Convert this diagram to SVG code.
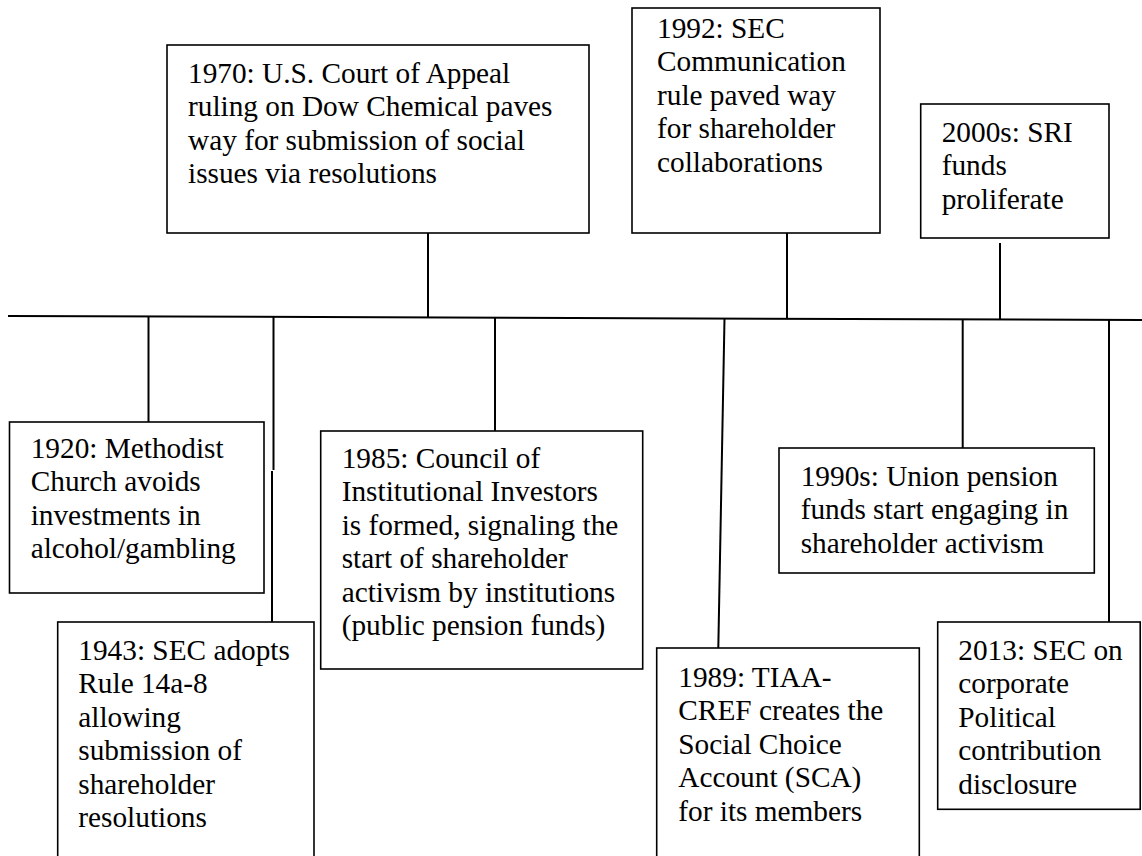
<svg xmlns="http://www.w3.org/2000/svg" width="1142" height="856" viewBox="0 0 1142 856">
  <style>
    .box { fill: #ffffff; stroke: #000000; stroke-width: 1.6; }
    .wire { fill: none; stroke: #000000; stroke-width: 2; }
    .lbl { font-family: "Liberation Serif", "Times New Roman", serif; font-size: 29.3px; fill: #000000; }
  </style>
  <rect x="0" y="0" width="1142" height="856" fill="#ffffff"/>

  <!-- timeline axis and ticks -->
  <g id="connectors">
    <line class="wire" x1="8" y1="316" x2="1142" y2="320"/>
    <!-- above the axis -->
    <line class="wire" x1="428" y1="233" x2="428" y2="317"/>
    <line class="wire" x1="787" y1="233" x2="787" y2="318.5"/>
    <line class="wire" x1="1000" y1="243" x2="1000" y2="319"/>
    <!-- below the axis -->
    <line class="wire" x1="148.5" y1="316.5" x2="148.5" y2="422"/>
    <line class="wire" x1="273.5" y1="317" x2="273.5" y2="470"/>
    <line class="wire" x1="272" y1="471" x2="272" y2="622"/>
    <line class="wire" x1="495" y1="317.5" x2="495" y2="431"/>
    <line class="wire" x1="724.5" y1="318.5" x2="718.3" y2="648"/>
    <line class="wire" x1="962.7" y1="319.5" x2="962.7" y2="448"/>
    <line class="wire" x1="1109" y1="320" x2="1109" y2="622"/>
  </g>

  <g id="n1970">
    <rect class="box" x="167" y="45" width="422" height="188"/>
    <text class="lbl" x="188" y="83">
      <tspan x="188">1970: U.S. Court of Appeal</tspan>
      <tspan x="188" dy="33.4">ruling on Dow Chemical paves</tspan>
      <tspan x="188" dy="33.4">way for submission of social</tspan>
      <tspan x="188" dy="33.4">issues via resolutions</tspan>
    </text>
  </g>

  <g id="n1992">
    <rect class="box" x="632" y="8" width="248" height="225"/>
    <text class="lbl" x="657" y="38">
      <tspan x="657">1992: SEC</tspan>
      <tspan x="657" dy="33.4">Communication</tspan>
      <tspan x="657" dy="33.4">rule paved way</tspan>
      <tspan x="657" dy="33.4">for shareholder</tspan>
      <tspan x="657" dy="33.4">collaborations</tspan>
    </text>
  </g>

  <g id="n2000s">
    <rect class="box" x="920.7" y="104" width="188.3" height="134"/>
    <text class="lbl" x="941.7" y="142">
      <tspan x="941.7">2000s: SRI</tspan>
      <tspan x="941.7" dy="33.4">funds</tspan>
      <tspan x="941.7" dy="33.4">proliferate</tspan>
    </text>
  </g>

  <g id="n1920">
    <rect class="box" x="9.5" y="422" width="254.5" height="171"/>
    <text class="lbl" x="30.7" y="458">
      <tspan x="30.7">1920: Methodist</tspan>
      <tspan x="30.7" dy="33.4">Church avoids</tspan>
      <tspan x="30.7" dy="33.4">investments in</tspan>
      <tspan x="30.7" dy="33.4">alcohol/gambling</tspan>
    </text>
  </g>

  <g id="n1943">
    <rect class="box" x="57.7" y="622" width="256.3" height="260"/>
    <text class="lbl" x="78.3" y="660">
      <tspan x="78.3">1943: SEC adopts</tspan>
      <tspan x="78.3" dy="33.4">Rule 14a-8</tspan>
      <tspan x="78.3" dy="33.4">allowing</tspan>
      <tspan x="78.3" dy="33.4">submission of</tspan>
      <tspan x="78.3" dy="33.4">shareholder</tspan>
      <tspan x="78.3" dy="33.4">resolutions</tspan>
    </text>
  </g>

  <g id="n1985">
    <rect class="box" x="320.7" y="431" width="322" height="238"/>
    <text class="lbl" x="341.7" y="468">
      <tspan x="341.7">1985: Council of</tspan>
      <tspan x="341.7" dy="33.4">Institutional Investors</tspan>
      <tspan x="341.7" dy="33.4">is formed, signaling the</tspan>
      <tspan x="341.7" dy="33.4">start of shareholder</tspan>
      <tspan x="341.7" dy="33.4">activism by institutions</tspan>
      <tspan x="341.7" dy="33.4">(public pension funds)</tspan>
    </text>
  </g>

  <g id="n1989">
    <rect class="box" x="656.7" y="648" width="262.6" height="240"/>
    <text class="lbl" x="678.3" y="687">
      <tspan x="678.3">1989: TIAA-</tspan>
      <tspan x="678.3" dy="33.4">CREF creates the</tspan>
      <tspan x="678.3" dy="33.4">Social Choice</tspan>
      <tspan x="678.3" dy="33.4">Account (SCA)</tspan>
      <tspan x="678.3" dy="33.4">for its members</tspan>
    </text>
  </g>

  <g id="n1990s">
    <rect class="box" x="779" y="448" width="315.3" height="125"/>
    <text class="lbl" x="800.7" y="486">
      <tspan x="800.7">1990s: Union pension</tspan>
      <tspan x="800.7" dy="33.4">funds start engaging in</tspan>
      <tspan x="800.7" dy="33.4">shareholder activism</tspan>
    </text>
  </g>

  <g id="n2013">
    <rect class="box" x="937.7" y="622" width="202.5" height="187.3"/>
    <text class="lbl" x="958.3" y="660">
      <tspan x="958.3">2013: SEC on</tspan>
      <tspan x="958.3" dy="33.4">corporate</tspan>
      <tspan x="958.3" dy="33.4">Political</tspan>
      <tspan x="958.3" dy="33.4">contribution</tspan>
      <tspan x="958.3" dy="33.4">disclosure</tspan>
    </text>
  </g>
</svg>
